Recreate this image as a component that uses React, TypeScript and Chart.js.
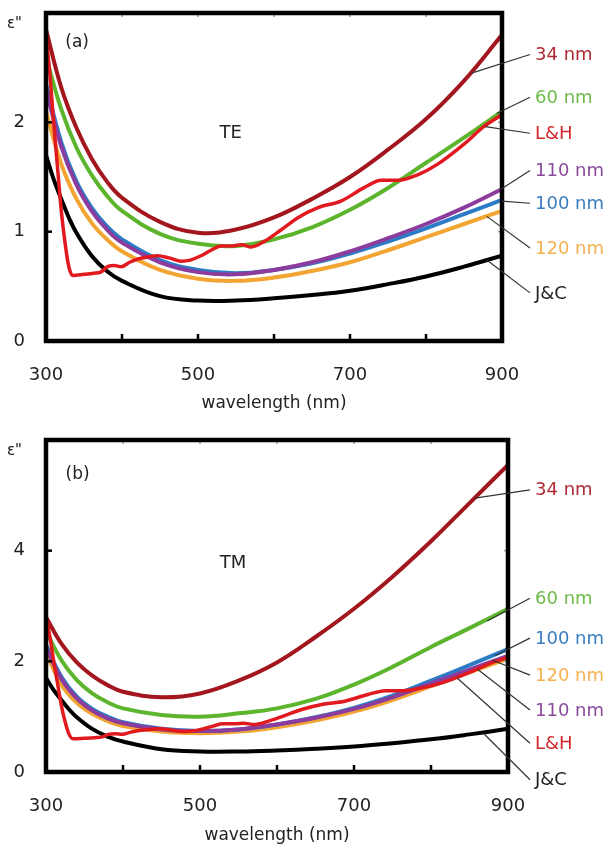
import React, { useEffect, useRef } from "react";
import { Chart, registerables } from "chart.js";

Chart.register(...registerables);

// ---------- data ----------
const WL = [300, 320, 340, 360, 380, 400, 450, 500, 550, 600, 650, 700, 750, 800, 850, 900];

// Panel (a) TE
const TE_34 = [2.85, 2.32, 1.95, 1.67, 1.46, 1.31, 1.09, 0.99, 1.02, 1.13, 1.3, 1.5, 1.75, 2.03, 2.38, 2.8];
const TE_60 = [2.6, 2.12, 1.77, 1.52, 1.33, 1.19, 0.98, 0.89, 0.87, 0.93, 1.04, 1.2, 1.4, 1.63, 1.86, 2.1];
const TE_110 = [2.3, 1.78, 1.43, 1.19, 1.02, 0.9, 0.72, 0.63, 0.61, 0.65, 0.72, 0.82, 0.94, 1.07, 1.22, 1.39];
const TE_100 = [2.35, 1.82, 1.46, 1.22, 1.05, 0.93, 0.74, 0.65, 0.62, 0.65, 0.71, 0.8, 0.91, 1.03, 1.16, 1.29];
const TE_120 = [2.1, 1.62, 1.3, 1.08, 0.93, 0.82, 0.65, 0.57, 0.55, 0.58, 0.64, 0.72, 0.83, 0.95, 1.07, 1.19];

// Panel (b) TM
const TM_34 = [2.8, 2.32, 1.98, 1.74, 1.57, 1.45, 1.35, 1.42, 1.65, 1.98, 2.44, 2.95, 3.53, 4.17, 4.86, 5.55];
const TM_60 = [2.55, 2.02, 1.66, 1.42, 1.26, 1.15, 1.03, 1.0, 1.06, 1.15, 1.32, 1.58, 1.9, 2.26, 2.6, 2.95];
const TM_110 = [2.25, 1.68, 1.33, 1.11, 0.97, 0.88, 0.77, 0.74, 0.77, 0.86, 0.98, 1.14, 1.35, 1.6, 1.85, 2.1];
const TM_100 = [2.3, 1.72, 1.36, 1.14, 1.0, 0.9, 0.78, 0.74, 0.77, 0.86, 0.99, 1.16, 1.38, 1.65, 1.93, 2.22];
const TM_120 = [2.15, 1.58, 1.25, 1.05, 0.92, 0.83, 0.73, 0.7, 0.73, 0.81, 0.93, 1.09, 1.3, 1.55, 1.8, 2.05];

// Bulk data (same in both panels)
const LH_WL = [300, 305, 310, 315, 320, 325, 330, 335, 350, 363, 372, 381, 390, 399, 410, 421, 435, 447, 462, 478, 490, 504, 517, 530, 545, 557, 570, 587, 610, 632, 658, 688, 718, 741, 763, 789, 816, 850, 876, 900];
const LH = [2.8, 2.45, 2.0, 1.6, 1.2, 0.9, 0.68, 0.6, 0.61, 0.62, 0.63, 0.68, 0.69, 0.68, 0.72, 0.75, 0.77, 0.78, 0.76, 0.73, 0.74, 0.78, 0.83, 0.87, 0.87, 0.88, 0.86, 0.91, 1.02, 1.13, 1.22, 1.28, 1.4, 1.47, 1.47, 1.52, 1.62, 1.8, 1.96, 2.07];
const JC_WL = [300, 310, 320, 330, 340, 360, 380, 400, 450, 500, 550, 600, 650, 700, 750, 800, 850, 900];
const JC = [1.7, 1.48, 1.3, 1.13, 0.99, 0.78, 0.64, 0.55, 0.41, 0.37, 0.37, 0.39, 0.42, 0.46, 0.52, 0.59, 0.68, 0.78];

const X_TICKS = [300, 500, 700, 900];
const X_MINOR = [400, 500, 600, 700, 800];
const TE_Y_TICKS = [0, 1, 2];
const TM_Y_TICKS = [0, 2, 4];

const SERIES_NAMES = ["L&H", "34 nm", "60 nm", "110 nm", "100 nm", "120 nm", "J&C"];

// curve label annotations: [name, anchor wavelength, anchor value, label value]
const TE_LABELS: [string, number, number, number][] = [
  ["34 nm", 860, 2.45, 2.62],
  ["60 nm", 893, 2.08, 2.23],
  ["L&H", 878, 1.96, 1.9],
  ["110 nm", 897, 1.38, 1.56],
  ["100 nm", 900, 1.28, 1.26],
  ["120 nm", 880, 1.14, 0.85],
  ["J&C", 880, 0.74, 0.44],
];
const TM_LABELS: [string, number, number, number][] = [
  ["34 nm", 857, 4.95, 5.1],
  ["60 nm", 873, 2.73, 3.14],
  ["100 nm", 883, 2.1, 2.42],
  ["120 nm", 880, 2.02, 1.75],
  ["110 nm", 860, 1.86, 1.12],
  ["L&H", 834, 1.7, 0.52],
  ["J&C", 868, 0.7, -0.14],
];

// ---------- styles ----------
const FONT = "DejaVu Sans";
const LINE_COLORS: Record<string, string> = {
  "L&H": "#e11a1f",
  "34 nm": "#a3161e",
  "60 nm": "#5cb52c",
  "110 nm": "#8c3c9c",
  "100 nm": "#2b7bc6",
  "120 nm": "#f3a533",
  "J&C": "#000000",
};
const TEXT_COLORS: Record<string, string> = {
  "L&H": "#d2262c",
  "34 nm": "#ad2a34",
  "60 nm": "#6cbb4a",
  "110 nm": "#8a4a9c",
  "100 nm": "#3a7cc0",
  "120 nm": "#f5b050",
  "J&C": "#222222",
};

const zip = (xs: number[], ys: number[]) => xs.map((x, i) => ({ x, y: ys[i] }));

const decorPlugin = {
  id: "decor",
  afterDatasetsDraw(chart: any, _args: any, opts: any) {
    const { ctx, chartArea: ca, scales } = chart;
    const x = scales.x;
    const y = scales.y;
    ctx.save();
    // inward tick marks
    ctx.strokeStyle = "#000";
    ctx.lineWidth = 2.5;
    for (const v of X_MINOR) {
      const px = x.getPixelForValue(v);
      ctx.beginPath();
      ctx.moveTo(px, ca.bottom);
      ctx.lineTo(px, ca.bottom - 7);
      ctx.stroke();
    }
    for (const v of opts.yTicks) {
      if (v === 0) continue;
      const py = y.getPixelForValue(v);
      ctx.beginPath();
      ctx.moveTo(ca.left, py);
      ctx.lineTo(ca.left + 6, py);
      ctx.stroke();
    }
    ctx.strokeStyle = "#9a9a9a";
    ctx.lineWidth = 1.5;
    for (const v of X_MINOR) {
      const px = x.getPixelForValue(v);
      ctx.beginPath();
      ctx.moveTo(px, ca.top);
      ctx.lineTo(px, ca.top + 4);
      ctx.stroke();
    }
    for (const v of opts.yTicks) {
      if (v === 0) continue;
      const py = y.getPixelForValue(v);
      ctx.beginPath();
      ctx.moveTo(ca.right, py);
      ctx.lineTo(ca.right - 4, py);
      ctx.stroke();
    }
    // frame
    ctx.strokeStyle = "#000";
    ctx.lineWidth = 4.5;
    ctx.strokeRect(ca.left, ca.top, ca.right - ca.left, ca.bottom - ca.top);

    // texts
    ctx.fillStyle = "#222";
    ctx.textBaseline = "middle";
    ctx.textAlign = "left";
    ctx.font = `15px ${FONT}`;
    ctx.fillText('ε"', ca.left - 39, ca.top + 11);
    ctx.textAlign = "center";
    ctx.font = `17px ${FONT}`;
    ctx.fillText(opts.panel, x.getPixelForValue(opts.panelAt[0]), y.getPixelForValue(opts.panelAt[1]));
    ctx.font = `18px ${FONT}`;
    ctx.fillText(opts.mode, x.getPixelForValue(opts.modeAt[0]), y.getPixelForValue(opts.modeAt[1]));

    // curve labels with leader lines
    ctx.textAlign = "left";
    ctx.font = `18px ${FONT}`;
    for (const [name, ax, ay, ly] of opts.labels) {
      const x0 = x.getPixelForValue(ax);
      const y0 = y.getPixelForValue(ay);
      const y1 = y.getPixelForValue(ly);
      ctx.strokeStyle = "#333";
      ctx.lineWidth = 1.2;
      ctx.beginPath();
      ctx.moveTo(x0, y0);
      ctx.lineTo(opts.leaderEnd, y1);
      ctx.stroke();
      ctx.fillStyle = TEXT_COLORS[name];
      ctx.fillText(name, opts.leaderEnd + 5, y1 + 1);
    }
    ctx.restore();
  },
};

function buildChart(canvas: HTMLCanvasElement, p: any) {
  const series: Record<string, { x: number; y: number }[]> = {
    "L&H": zip(LH_WL, LH),
    "34 nm": zip(WL, p.s34),
    "60 nm": zip(WL, p.s60),
    "110 nm": zip(WL, p.s110),
    "100 nm": zip(WL, p.s100),
    "120 nm": zip(WL, p.s120),
    "J&C": zip(JC_WL, JC),
  };
  const datasets = SERIES_NAMES.map((name, i) => ({
    label: name,
    data: series[name],
    borderColor: LINE_COLORS[name],
    backgroundColor: LINE_COLORS[name],
    borderWidth: name === "L&H" ? 3.5 : 4,
    pointRadius: 0,
    fill: false,
    tension: 0.4,
    cubicInterpolationMode: name === "L&H" ? ("monotone" as const) : ("default" as const),
    order: i,
  }));
  const zeroPad = (s: any) => {
    s.paddingTop = 0;
    s.paddingBottom = 0;
    s.paddingLeft = 0;
    s.paddingRight = 0;
  };
  return new Chart(canvas, {
    type: "line",
    data: { datasets },
    plugins: [decorPlugin],
    options: {
      responsive: false,
      animation: false,
      events: [],
      layout: { padding: { left: 0, top: p.padTop, right: p.padRight, bottom: 0 } },
      plugins: {
        legend: { display: false },
        tooltip: { enabled: false },
        decor: {
          yTicks: p.yTicks,
          labels: p.labels,
          panel: p.panel,
          panelAt: p.panelAt,
          mode: p.mode,
          modeAt: p.modeAt,
          leaderEnd: 530,
        },
      } as any,
      scales: {
        x: {
          type: "linear",
          min: 300,
          max: 900,
          grid: { display: false, drawTicks: false },
          border: { display: false },
          afterBuildTicks: (s: any) => {
            s.ticks = X_TICKS.map((v) => ({ value: v }));
          },
          afterFit: (s: any) => {
            s.height = p.xHeight;
            zeroPad(s);
          },
          ticks: {
            font: { family: FONT, size: 18 },
            color: "#222",
            padding: 24,
            maxRotation: 0,
            autoSkip: false,
          },
          title: {
            display: true,
            text: "wavelength (nm)",
            font: { family: FONT, size: 17 },
            color: "#222",
            padding: { top: 0, bottom: 1 },
          },
        },
        y: {
          type: "linear",
          min: 0,
          max: p.yMax,
          grid: { display: false, drawTicks: false },
          border: { display: false },
          afterBuildTicks: (s: any) => {
            s.ticks = p.yTicks.map((v: number) => ({ value: v }));
          },
          afterFit: (s: any) => {
            s.width = 46;
            zeroPad(s);
          },
          ticks: {
            font: { family: FONT, size: 18 },
            color: "#222",
            padding: 21,
          },
        },
      },
    } as any,
  });
}

export default function App() {
  const refA = useRef<HTMLCanvasElement>(null);
  const refB = useRef<HTMLCanvasElement>(null);

  useEffect(() => {
    const a = buildChart(refA.current!, {
      s34: TE_34,
      s60: TE_60,
      s110: TE_110,
      s100: TE_100,
      s120: TE_120,
      yMax: 3,
      yTicks: TE_Y_TICKS,
      labels: TE_LABELS,
      panel: "(a)",
      panelAt: [341, 2.73],
      mode: "TE",
      modeAt: [543, 1.9],
      padTop: 13,
      padRight: 106,
      xHeight: 74,
    });
    const b = buildChart(refB.current!, {
      s34: TM_34,
      s60: TM_60,
      s110: TM_110,
      s100: TM_100,
      s120: TM_120,
      yMax: 6,
      yTicks: TM_Y_TICKS,
      labels: TM_LABELS,
      panel: "(b)",
      panelAt: [341, 5.37],
      mode: "TM",
      modeAt: [543, 3.78],
      padTop: 25,
      padRight: 100,
      xHeight: 75,
    });
    return () => {
      a.destroy();
      b.destroy();
    };
  }, []);

  return (
    <div style={{ position: "absolute", left: 0, top: 0, width: 608, height: 847, background: "#fff" }}>
      <canvas ref={refA} width={608} height={415} style={{ display: "block" }} />
      <canvas ref={refB} width={608} height={432} style={{ display: "block" }} />
    </div>
  );
}
